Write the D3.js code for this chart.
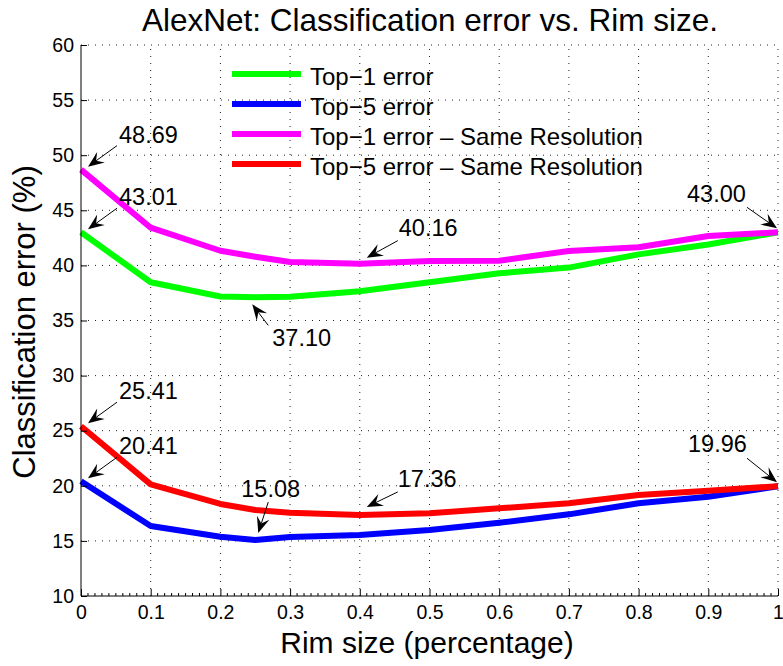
<!DOCTYPE html>
<html>
<head>
<meta charset="utf-8">
<script src="https://cdn.jsdelivr.net/npm/d3@7"></script>
<style>
  html, body { margin: 0; padding: 0; background: #fff; }
  svg { display: block; font-family: "Liberation Sans", Arial, Helvetica, sans-serif; }
</style>
</head>
<body>
<svg id="chart" width="783" height="666"></svg>
<script>
// Rim size (fraction of image) at which each network variant was evaluated
const rimSizes = [0, 0.1, 0.2, 0.25, 0.3, 0.4, 0.5, 0.6, 0.7, 0.8, 0.9, 1.0];

// Classification error (%) per rim size
const top1Error      = [43.01, 38.47, 37.18, 37.10, 37.16, 37.66, 38.47, 39.28, 39.80, 41.00, 41.90, 43.00];
const top5Error      = [20.41, 16.35, 15.38, 15.08, 15.36, 15.54, 15.99, 16.65, 17.41, 18.41, 19.01, 19.96];
const top1ErrorSame  = [48.69, 43.42, 41.33, 40.79, 40.31, 40.16, 40.40, 40.43, 41.31, 41.64, 42.67, 43.00];
const top5ErrorSame  = [25.41, 20.13, 18.35, 17.80, 17.56, 17.36, 17.50, 17.96, 18.41, 19.16, 19.56, 19.96];

const seriesNames = ["Top\u22121 error", "Top\u22125 error",
                     "Top\u22121 error \u2013 Same Resolution", "Top\u22125 error \u2013 Same Resolution"];
const seriesColors = ["#00ff00", "#0000ff", "#ff00ff", "#ff0000"];
const seriesValues = [top1Error, top5Error, top1ErrorSame, top5ErrorSame];

const xTicks = [0, 0.1, 0.2, 0.3, 0.4, 0.5, 0.6, 0.7, 0.8, 0.9, 1];
const yTicks = [10, 15, 20, 25, 30, 35, 40, 45, 50, 55, 60];

// Callouts: which series and which rim-size index is labelled
const calloutSeries = [2, 0, 3, 1, 0, 1, 2, 3, 2, 3];
const calloutIndex  = [0, 0, 0, 0, 3, 3, 5, 5, 11, 11];
// Placement of each callout relative to its point: text start, arrow tail, arrow tip (px)
const calloutPlacement = [
  { tx: 38, ty: -27, ax: 36, ay: -24, bx: 7, by: -3 },
  { tx: 38, ty: -27, ax: 36, ay: -24, bx: 7, by: -3 },
  { tx: 38, ty: -27, ax: 36, ay: -24, bx: 7, by: -3 },
  { tx: 38, ty: -27, ax: 36, ay: -24, bx: 7, by: -3 },
  { tx: 17, ty: 49, ax: 13, ay: 28, bx: -3, by: 7 },
  { tx: -14, ty: -43, ax: 13, ay: -38, bx: 3, by: -7 },
  { tx: 39, ty: -28, ax: 38, ay: -23, bx: 7, by: -6 },
  { tx: 38, ty: -28, ax: 38, ay: -23, bx: 7, by: -8 },
  { tx: -91, ty: -30, ax: -31, ay: -25, bx: -1, by: -4 },
  { tx: -90, ty: -34, ax: -31, ay: -28, bx: -1, by: -4 }
];

const svg = d3.select("#chart");
const plotLeft = 81, plotRight = 778, plotTop = 45, plotBottom = 596;

const x = d3.scaleLinear().domain([0, 1]).range([plotLeft, plotRight]);
const y = d3.scaleLinear().domain([10, 60]).range([plotBottom, plotTop]);

svg.append("rect").attr("width", 783).attr("height", 666).attr("fill", "#fff");

// Dotted grid
const grid = svg.append("g").attr("stroke", "#222").attr("stroke-width", 1)
  .attr("stroke-dasharray", "1,6").attr("fill", "none");
grid.selectAll("line.gx").data(xTicks.slice(1)).join("line")
  .attr("x1", d => x(d)).attr("x2", d => x(d)).attr("y1", plotBottom).attr("y2", plotTop);
grid.selectAll("line.gy").data(yTicks.slice(1)).join("line")
  .attr("x1", plotLeft).attr("x2", plotRight).attr("y1", d => y(d)).attr("y2", d => y(d));

// Series lines
const line = d3.line().x(d => x(d[0])).y(d => y(d[1]));
seriesValues.forEach((vals, i) => {
  svg.append("path")
    .datum(rimSizes.map((r, k) => [r, vals[k]]))
    .attr("d", line)
    .attr("fill", "none")
    .attr("stroke", seriesColors[i])
    .attr("stroke-width", 6)
    .attr("stroke-linejoin", "round");
});

// Axes (ticks pointing inward)
const xAxis = d3.axisBottom(x).tickValues(xTicks).tickSize(-7).tickPadding(9)
  .tickFormat(d => d === 0 || d === 1 ? d3.format("d")(d) : d3.format(".1f")(d));
const gx = svg.append("g").attr("transform", `translate(0,${plotBottom})`).call(xAxis);
gx.select(".domain").attr("stroke", "#000").attr("d", `M${plotLeft},0H${plotRight}`);
gx.selectAll(".tick line").attr("stroke", "#000");
gx.selectAll(".tick text").attr("font-size", 19.5).attr("fill", "#000")
  .attr("font-family", "Liberation Sans, Arial, sans-serif");

// Minor x ticks
const minor = d3.range(0, 101).map(k => k / 100).filter(v => Math.round(v * 100) % 10 !== 0);
svg.append("g").selectAll("line").data(minor).join("line")
  .attr("x1", d => x(d)).attr("x2", d => x(d))
  .attr("y1", plotBottom).attr("y2", plotBottom - 3)
  .attr("stroke", "#000").attr("stroke-width", 1);

const yAxis = d3.axisLeft(y).tickValues(yTicks).tickSize(-6).tickPadding(7);
const gy = svg.append("g").attr("transform", `translate(${plotLeft},0)`).call(yAxis);
gy.select(".domain").attr("stroke", "#000").attr("d", `M0,${plotBottom}V${plotTop}`);
gy.selectAll(".tick line").attr("stroke", "#000");
gy.selectAll(".tick text").attr("font-size", 19.5).attr("fill", "#000")
  .attr("font-family", "Liberation Sans, Arial, sans-serif");

// Title and axis labels
svg.append("text").attr("x", 430).attr("y", 31).attr("text-anchor", "middle")
  .attr("font-size", 31.5).text("AlexNet: Classification error vs. Rim size.");
svg.append("text").attr("x", 427).attr("y", 653).attr("text-anchor", "middle")
  .attr("font-size", 30).text("Rim size (percentage)");
svg.append("text").attr("transform", "translate(35,322) rotate(-90)")
  .attr("text-anchor", "middle").attr("font-size", 31).text("Classification error (%)");

// Legend
const legend = svg.append("g");
seriesNames.forEach((name, i) => {
  const ly = 74 + i * 30;
  legend.append("line").attr("x1", 232).attr("x2", 301).attr("y1", ly).attr("y2", ly)
    .attr("stroke", seriesColors[i]).attr("stroke-width", 6);
  legend.append("text").attr("x", 310).attr("y", ly + 10.5).attr("font-size", 24).text(name);
});

// Callouts with arrows
const callouts = svg.append("g");
calloutSeries.forEach((s, i) => {
  const k = calloutIndex[i];
  const v = seriesValues[s][k];
  const px = x(rimSizes[k]), py = y(v);
  const p = calloutPlacement[i];
  const ax = px + p.ax, ay = py + p.ay, bx = px + p.bx, by = py + p.by;
  const ang = Math.atan2(by - ay, bx - ax);
  const len = 16, half = 6.5, notch = 10;
  const ux = Math.cos(ang), uy = Math.sin(ang), nx = -uy, ny = ux;
  const baseX = bx - ux * len, baseY = by - uy * len;
  const notchX = bx - ux * notch, notchY = by - uy * notch;
  callouts.append("line").attr("x1", ax).attr("y1", ay).attr("x2", notchX).attr("y2", notchY)
    .attr("stroke", "#000").attr("stroke-width", 1);
  callouts.append("path")
    .attr("d", `M${bx},${by}L${baseX + nx * half},${baseY + ny * half}L${notchX},${notchY}L${baseX - nx * half},${baseY - ny * half}Z`)
    .attr("fill", "#000");
  callouts.append("text").attr("x", px + p.tx).attr("y", py + p.ty)
    .attr("font-size", 23.5).text(v.toFixed(2));
});
</script>
</body>
</html>
